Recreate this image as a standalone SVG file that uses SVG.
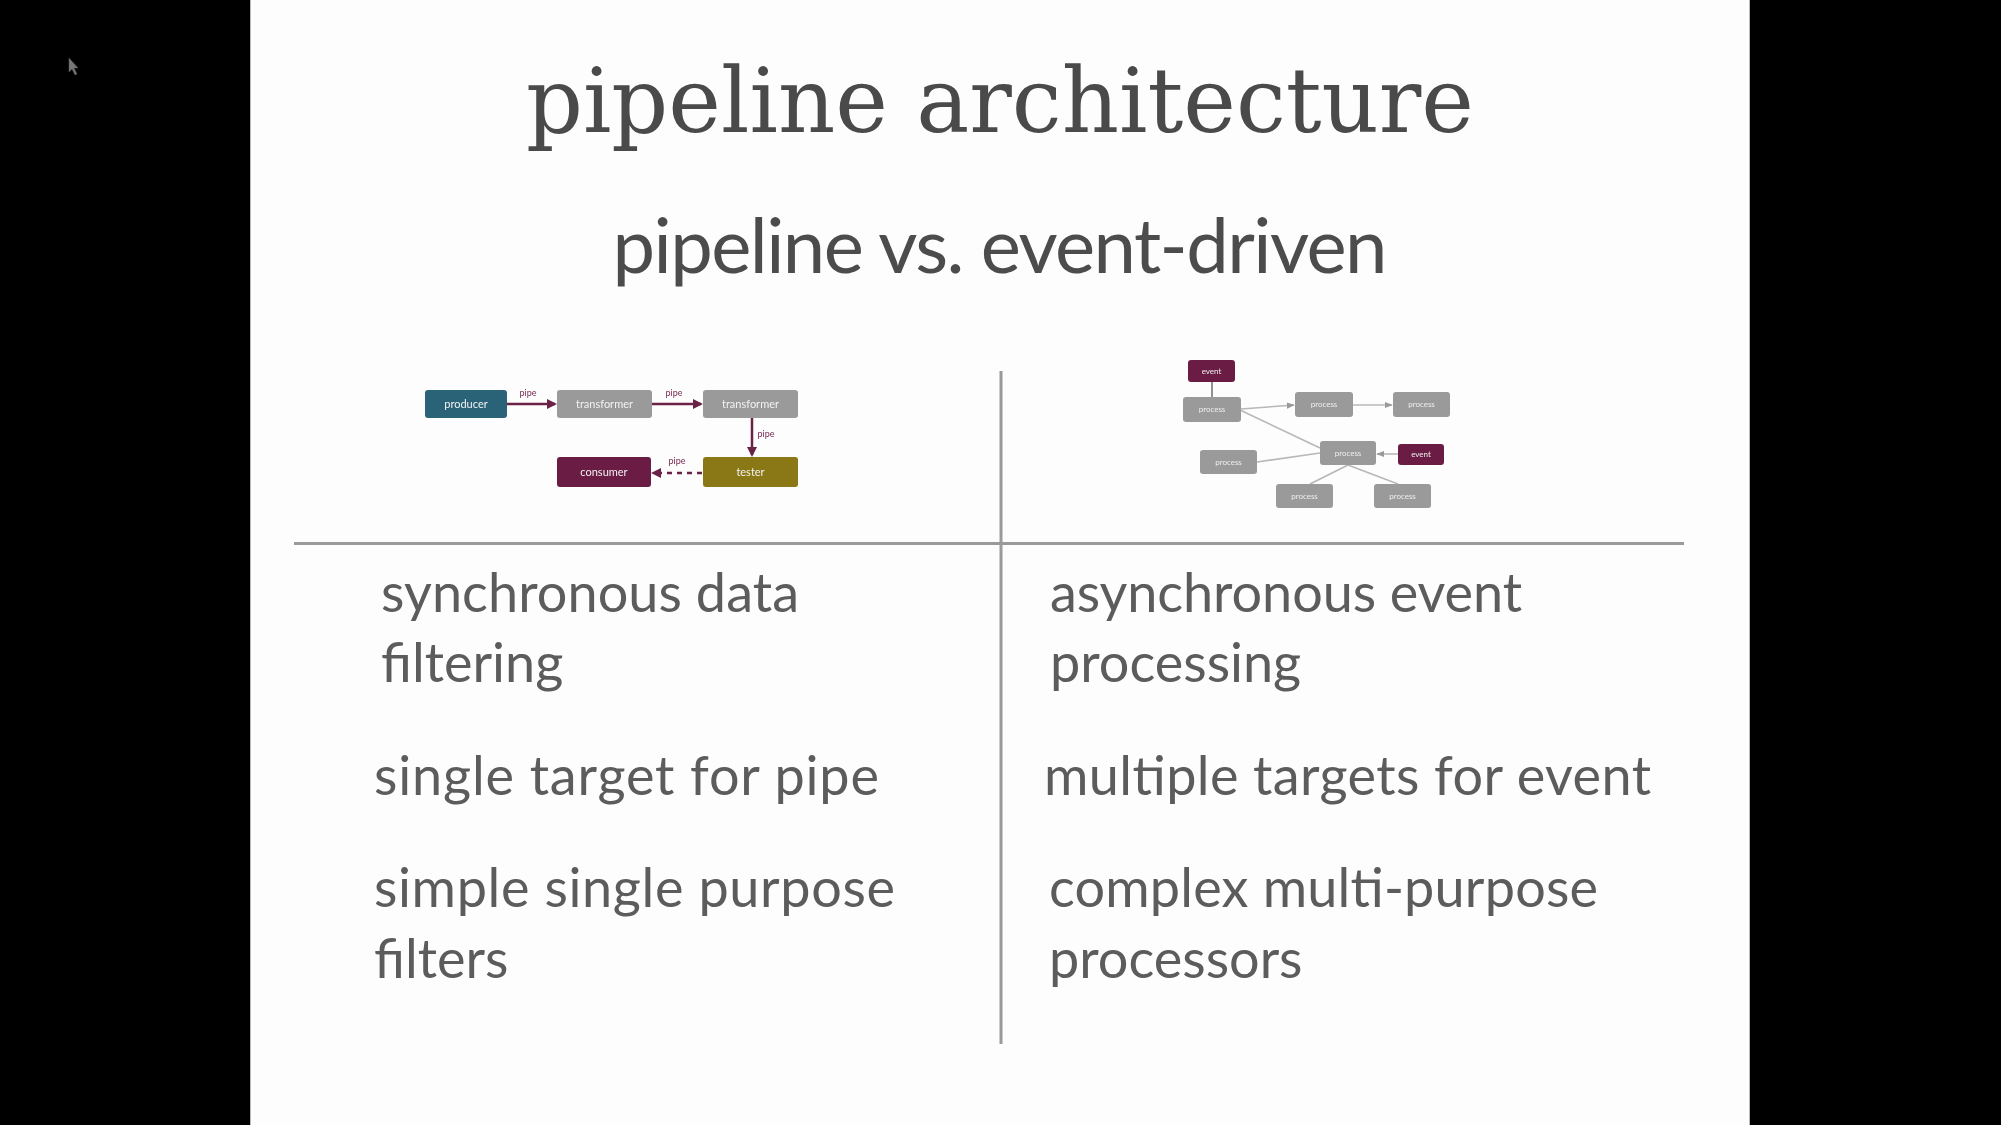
<svg xmlns="http://www.w3.org/2000/svg" width="2001" height="1125" viewBox="0 0 2001 1125">
  <defs>
    <style>
      .title { font-family: "DejaVu Serif", "Liberation Serif", serif; font-size: 89px; fill: #4a4a4a; }
      .sub { font-family: Lato, "Open Sans", sans-serif; font-size: 76px; fill: #4c4c4c; }
      .body { font-family: Lato, "Open Sans", sans-serif; font-size: 54px; fill: #5c5c5c; }
      .node-label { font-family: Lato, "Liberation Sans", sans-serif; font-size: 11px; fill: #f2f2f2; text-anchor: middle; }
      .ev-label { font-family: Lato, "Liberation Sans", sans-serif; font-size: 8px; fill: #eeeeee; text-anchor: middle; }
      .pipe-label { font-family: Lato, "Liberation Sans", sans-serif; font-size: 9px; fill: #7a2a52; text-anchor: middle; }
      .pipe { stroke: #6b2346; stroke-width: 2.5; fill: none; }
      .ev-line { stroke: #b8b8b8; stroke-width: 1.6; fill: none; }
      .rule { stroke: #9a9a9a; stroke-width: 3; }
      .gray { fill: #9a9a9a; }
    </style>
    <marker id="pipeHead" viewBox="0 0 10 10" refX="8" refY="5" markerWidth="4" markerHeight="4" orient="auto">
      <path d="M0,0 L10,5 L0,10 z" fill="#6b2346"/>
    </marker>
    <marker id="evHead" viewBox="0 0 10 10" refX="9" refY="5" markerWidth="5" markerHeight="5" orient="auto">
      <path d="M0,1 L10,5 L0,9 z" fill="#9a9a9a"/>
    </marker>
    <filter id="soft" x="-5%" y="-5%" width="110%" height="110%">
      <feGaussianBlur stdDeviation="0.7"/>
    </filter>
  </defs>

  <!-- letterbox and slide -->
  <rect x="0" y="0" width="2001" height="1125" fill="#000"/>
  <rect x="250" y="0" width="1500" height="1125" fill="#fdfdfd"/>
  <line x1="250.5" y1="0" x2="250.5" y2="1125" stroke="#bbb" stroke-width="1"/>
  <line x1="1749.5" y1="0" x2="1749.5" y2="1125" stroke="#bbb" stroke-width="1"/>

  <!-- mouse pointer -->
  <path d="M69,58 L69,72 L72,69 L75,75 L77,74 L74,68 L78,68 z" fill="#777" stroke="#555" stroke-width="0.5"/>

  <!-- headings -->
  <text class="title" x="1000" y="132" text-anchor="middle">pipeline architecture</text>
  <text class="sub" x="1000" y="273" text-anchor="middle" textLength="775" lengthAdjust="spacing">pipeline vs. event-driven</text>

  <!-- table rules -->
  <line class="rule" x1="294" y1="543.5" x2="1684" y2="543.5"/>
  <line class="rule" x1="1001" y1="371" x2="1001" y2="1044" stroke-width="2.5"/>

  <!-- pipeline sketch -->
  <g filter="url(#soft)">
    <g id="connectors-pipeline">
      <line class="pipe" x1="507" y1="404" x2="555" y2="404" marker-end="url(#pipeHead)"/>
      <line class="pipe" x1="652" y1="404" x2="701" y2="404" marker-end="url(#pipeHead)"/>
      <line class="pipe" x1="752" y1="418" x2="752" y2="455" marker-end="url(#pipeHead)"/>
      <line class="pipe" x1="702" y1="473" x2="653" y2="473" stroke-dasharray="5,5" marker-end="url(#pipeHead)"/>
      <text class="pipe-label" x="528" y="396">pipe</text>
      <text class="pipe-label" x="674" y="396">pipe</text>
      <text class="pipe-label" x="766" y="437">pipe</text>
      <text class="pipe-label" x="677" y="464">pipe</text>
    </g>
    <g id="producer">
      <rect x="425" y="390" width="82" height="28" rx="3" fill="#2c6478"/>
      <text class="node-label" x="466" y="408">producer</text>
    </g>
    <g id="transformer-1">
      <rect class="gray" x="557" y="390" width="95" height="28" rx="3"/>
      <text class="node-label" x="604.5" y="408">transformer</text>
    </g>
    <g id="transformer-2">
      <rect class="gray" x="703" y="390" width="95" height="28" rx="3"/>
      <text class="node-label" x="750.5" y="408">transformer</text>
    </g>
    <g id="consumer">
      <rect x="557" y="457" width="94" height="30" rx="3" fill="#6a1c45"/>
      <text class="node-label" x="604" y="476">consumer</text>
    </g>
    <g id="tester">
      <rect x="703" y="457" width="95" height="30" rx="3" fill="#8a7812"/>
      <text class="node-label" x="750.5" y="476">tester</text>
    </g>
  </g>

  <!-- event-driven sketch -->
  <g filter="url(#soft)">
    <g id="connectors-event">
      <line x1="1212" y1="382" x2="1212" y2="397" stroke="#777" stroke-width="1.6"/>
      <line class="ev-line" x1="1241" y1="409" x2="1294" y2="405" marker-end="url(#evHead)"/>
      <line class="ev-line" x1="1353" y1="405" x2="1392" y2="405" marker-end="url(#evHead)"/>
      <line class="ev-line" x1="1240" y1="410" x2="1320" y2="448"/>
      <line class="ev-line" x1="1257" y1="462" x2="1320" y2="453"/>
      <line class="ev-line" x1="1398" y1="454" x2="1377" y2="454" stroke="#999" marker-end="url(#evHead)"/>
      <line class="ev-line" x1="1348" y1="465" x2="1310" y2="484"/>
      <line class="ev-line" x1="1348" y1="465" x2="1398" y2="484"/>
    </g>
    <g id="event-top">
      <rect x="1188" y="360" width="47" height="22" rx="3" fill="#6a1c45"/>
      <text class="ev-label" x="1211.5" y="374">event</text>
    </g>
    <g id="process-a">
      <rect class="gray" x="1183" y="397" width="58" height="25" rx="3"/>
      <text class="ev-label" x="1212" y="412">process</text>
    </g>
    <g id="process-b">
      <rect class="gray" x="1295" y="392" width="58" height="25" rx="3"/>
      <text class="ev-label" x="1324" y="407">process</text>
    </g>
    <g id="process-c">
      <rect class="gray" x="1393" y="392" width="57" height="25" rx="3"/>
      <text class="ev-label" x="1421.5" y="407">process</text>
    </g>
    <g id="process-d">
      <rect class="gray" x="1320" y="441" width="56" height="24" rx="3"/>
      <text class="ev-label" x="1348" y="456">process</text>
    </g>
    <g id="event-right">
      <rect x="1398" y="444" width="46" height="21" rx="3" fill="#6a1c45"/>
      <text class="ev-label" x="1421" y="457">event</text>
    </g>
    <g id="process-e">
      <rect class="gray" x="1200" y="450" width="57" height="24" rx="3"/>
      <text class="ev-label" x="1228.5" y="465">process</text>
    </g>
    <g id="process-f">
      <rect class="gray" x="1276" y="484" width="57" height="24" rx="3"/>
      <text class="ev-label" x="1304.5" y="499">process</text>
    </g>
    <g id="process-g">
      <rect class="gray" x="1374" y="484" width="57" height="24" rx="3"/>
      <text class="ev-label" x="1402.5" y="499">process</text>
    </g>
  </g>

  <!-- comparison rows -->
  <text class="body" x="381" y="612" textLength="418" lengthAdjust="spacing">synchronous data</text>
  <text class="body" x="381" y="682">filtering</text>
  <text class="body" x="374" y="795" textLength="505" lengthAdjust="spacing">single target for pipe</text>
  <text class="body" x="374" y="907" textLength="521" lengthAdjust="spacing">simple single purpose</text>
  <text class="body" x="374" y="978">filters</text>

  <text class="body" x="1050" y="612" textLength="472" lengthAdjust="spacing">asynchronous event</text>
  <text class="body" x="1050" y="682">processing</text>
  <text class="body" x="1044" y="795" textLength="607" lengthAdjust="spacing">multiple targets for event</text>
  <text class="body" x="1049" y="907" textLength="549" lengthAdjust="spacing">complex multi-purpose</text>
  <text class="body" x="1049" y="978">processors</text>
</svg>
